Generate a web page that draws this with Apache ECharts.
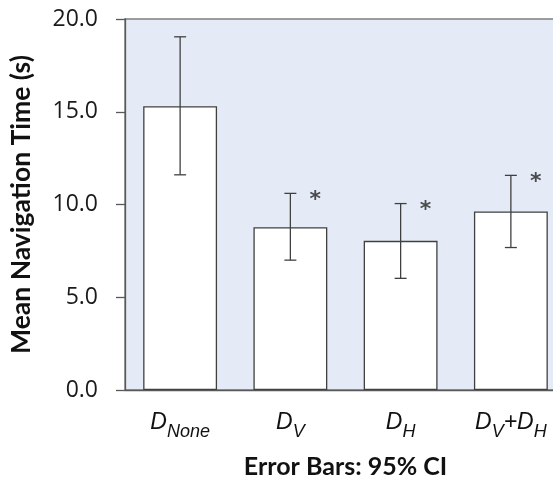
<!DOCTYPE html>
<html>
<head>
<meta charset="utf-8">
<script src="https://cdn.jsdelivr.net/npm/echarts@6/dist/echarts.min.js"></script>
<style>
html,body{margin:0;padding:0;background:#fff;overflow:hidden;width:553px;height:480px;}
#c{width:566px;height:480px;}
</style>
</head>
<body>
<div id="c"></div>
<script>
// Data
var categories = ["D_None", "D_V", "D_H", "D_V+D_H"];
var means = [15.3, 8.77, 8.04, 9.62];
var ciLow = [11.6, 7.0, 6.02, 7.68];
var ciHigh = [19.04, 10.6, 10.05, 11.57];
var significant = [false, true, true, true];
var yTicks = [0, 5, 10, 15, 20];

var chart = echarts.init(document.getElementById('c'), null, {renderer: 'canvas'});

function fmtCat(v) {
  return v.split('+').map(function (p) {
    var parts = p.split('_');
    return '{m|' + parts[0] + '}{s|' + parts[1] + '}';
  }).join('{m|+}');
}

var errData = categories.map(function (c, i) { return [i, ciLow[i], ciHigh[i]]; });
var starData = [];
categories.forEach(function (c, i) { if (significant[i]) starData.push([i, ciHigh[i]]); });

var ink = '#404040';

chart.setOption({
  animation: false,
  grid: {
    left: 125, top: 19, bottom: 90, right: 0,
    outerBoundsMode: 'none',
    containLabel: false,
    show: true, backgroundColor: '#e5ebf6',
    borderColor: '#7f7f7f', borderWidth: 1.5
  },
  xAxis: {
    type: 'category',
    data: categories,
    axisLine: {lineStyle: {color: '#595959', width: 1.3}},
    axisTick: {length: 7, lineStyle: {color: '#595959', width: 1.3}},
    axisLabel: {
      interval: 0,
      margin: 14,
      formatter: fmtCat,
      rich: {
        m: {fontFamily: 'Liberation Sans', fontStyle: 'italic', fontSize: 23, color: '#111'},
        s: {fontFamily: 'Liberation Sans', fontStyle: 'italic', fontSize: 18, color: '#111', padding: [19, 0, 0, 0]}
      }
    },
    name: 'Error Bars: 95% CI',
    nameLocation: 'middle',
    nameGap: 64,
    nameTextStyle: {fontFamily: 'Lato', fontWeight: 'bold', fontSize: 25, color: '#111'}
  },
  yAxis: {
    type: 'value',
    min: yTicks[0], max: yTicks[yTicks.length - 1], interval: 5,
    splitLine: {show: false},
    axisLine: {show: true, lineStyle: {color: '#595959', width: 1.3}},
    axisTick: {show: true, length: 9, lineStyle: {color: '#595959', width: 1.3}},
    axisLabel: {
      margin: 27,
      formatter: function (v) { return v.toFixed(1); },
      fontFamily: 'Open Sans', fontSize: 23, color: '#1a1a1a'
    },
    name: 'Mean Navigation Time (s)',
    nameLocation: 'middle',
    nameGap: 90,
    nameTextStyle: {fontFamily: 'Lato', fontWeight: 'bold', fontSize: 26.5, color: '#111'}
  },
  series: [
    {
      type: 'bar',
      data: means,
      barWidth: '67%',
      itemStyle: {color: '#ffffff', borderColor: ink, borderWidth: 1.3},
      z: 2
    },
    {
      type: 'custom',
      data: errData,
      z: 3,
      renderItem: function (params, api) {
        var lo = api.coord([api.value(0), api.value(1)]);
        var hi = api.coord([api.value(0), api.value(2)]);
        var hw = 6;
        var st = {stroke: ink, lineWidth: 1.3};
        return {
          type: 'group',
          children: [
            {type: 'line', shape: {x1: hi[0], y1: hi[1], x2: lo[0], y2: lo[1]}, style: st},
            {type: 'line', shape: {x1: hi[0] - hw, y1: hi[1], x2: hi[0] + hw, y2: hi[1]}, style: st},
            {type: 'line', shape: {x1: lo[0] - hw, y1: lo[1], x2: lo[0] + hw, y2: lo[1]}, style: st}
          ]
        };
      }
    },
    {
      type: 'scatter',
      data: starData,
      symbolSize: 0,
      z: 4,
      label: {
        show: true,
        position: 'inside',
        offset: [25, 7],
        formatter: '*',
        fontFamily: 'DejaVu Sans', fontWeight: 'bold', fontSize: 22, color: '#222'
      }
    }
  ]
});
</script>
</body>
</html>
